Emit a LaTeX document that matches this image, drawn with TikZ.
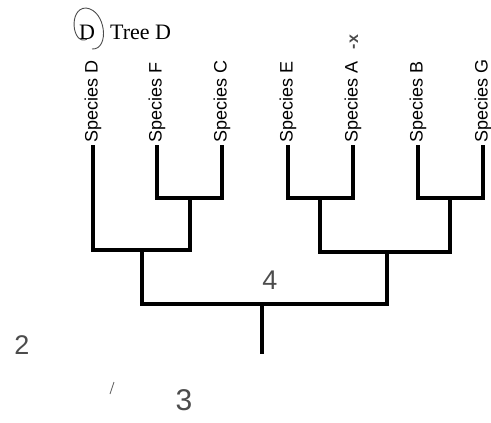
\documentclass[tikz,border=0pt]{standalone}
\usepackage{fontspec}
\setmainfont{Liberation Serif}
\setsansfont{Liberation Sans}
\begin{document}
\begin{tikzpicture}[x=1pt,y=-1pt,
        branch/.style={line width=3.4pt,line join=miter},
        taxon/.style={rotate=90,anchor=west,inner sep=2pt,
            font=\sffamily\fontsize{18}{20}\selectfont},
        hand/.style={black!70,font=\sffamily\fontsize{27}{29}\selectfont}]
    \useasboundingbox (0,0) rectangle (491,423);
    % title
    \node[anchor=base,inner sep=0pt,font=\fontsize{22}{24}\selectfont]
        (dlet) at (87,39) {D};
    \node[anchor=base west,inner sep=0pt,font=\fontsize{22}{24}\selectfont]
        (title) at (110,39) {Tree D};
    \draw[black!70,line width=0.9pt] (dlet.south) .. controls (72,46) and (68,8) .. (86,8)
        .. controls (106,10) and (110,50) .. (92,49);
    % species at the tips
    \node[taxon] (sD) at (93,145) {Species D};
    \node[taxon] (sF) at (157,145) {Species F};
    \node[taxon] (sC) at (222,145) {Species C};
    \node[taxon] (sE) at (288,145) {Species E};
    \node[taxon] (sA) at (353,145) {Species A};
    \node[taxon] (sB) at (418,145) {Species B};
    \node[taxon] (sG) at (483,145) {Species G};
    \node[hand,rotate=90,font=\sffamily\bfseries\fontsize{16}{18}\selectfont] (mark) at (354,42) {-x};
    % branch points
    \coordinate (nFC) at (190,198);
    \coordinate (nEA) at (320,198);
    \coordinate (nBG) at (450,198);
    \coordinate (nDFC) at (142,250);
    \coordinate (nEABG) at (387,252);
    \coordinate (root) at (262,304);
    \coordinate (stem) at (262,354);
    % branches
    \draw[branch] (sF.west) |- (nFC) -| (sC.west);
    \draw[branch] (sE.west) |- (nEA) -| (sA.west);
    \draw[branch] (sB.west) |- (nBG) -| (sG.west);
    \draw[branch] (sD.west) |- (nDFC) -| (nFC);
    \draw[branch] (nEA) |- (nEABG) -| (nBG);
    \draw[branch] (nDFC) |- (root) -| (nEABG);
    \draw[branch] (root) -- (stem);
    % pencil notes
    \node[hand] (four) at (270,280) {4};
    \node[hand] (two) at (22,345) {2};
    \node[hand,font=\sffamily\fontsize{30}{32}\selectfont] (three) at (184,400) {3};
    \draw[black!60,line width=0.8pt] (114,382) -- (110,394);
\end{tikzpicture}
\end{document}
